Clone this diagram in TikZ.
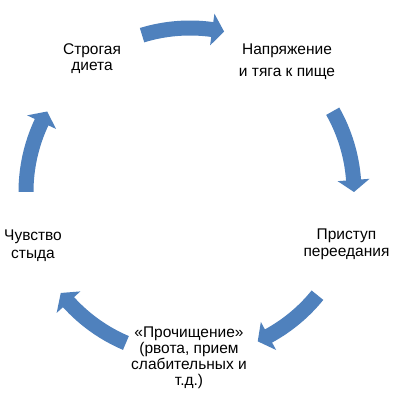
\documentclass[tikz,border=0pt]{standalone}
\usepackage{fontspec}
\setmainfont{Liberation Sans}
\definecolor{cycblue}{HTML}{4F81BD}
\tikzset{
  cyctext/.style={anchor=base, align=center, inner sep=0pt, text=black},
  cycfill/.style={fill=cycblue, draw=none}
}
\begin{document}
\begin{tikzpicture}[x=1pt,y=1pt]
\fill[white] (0,0) rectangle (400,400);
\useasboundingbox (0,0) rectangle (400,400);
\coordinate (ctr) at (190,208);
\begin{scope}[shift={(ctr)}]
\foreach \a/\t in {107/78, 29.5/0, -39/-65.6, -113/-142, 180/150.6}{
  \pgfmathsetmacro{\b}{\t+4.2}
  \fill[cycfill] (\a:171.5pt) arc[start angle=\a, end angle=\b, radius=171.5pt]
    -- (\b:180pt) -- (\t:164pt) -- (\b:148pt) -- (\b:156.5pt)
    arc[start angle=\b, end angle=\a, radius=156.5pt] -- cycle;
}
\end{scope}
\node[cyctext, font={\fontsize{15.5}{16.5}\selectfont}] (diet) at (92,329) {Строгая\\диета};
\node[cyctext, font={\fontsize{15.5}{22}\selectfont}] (tension) at (287,323) {Напряжение\\и тяга к пище};
\node[cyctext, font={\fontsize{15.5}{17}\selectfont}] (binge) at (346.5,143) {Приступ\\переедания};
\node[cyctext, font={\fontsize{15.5}{15.7}\selectfont}] (purge) at (189,15) {«Прочищение»\\(рвота, прием\\слабительных и\\т.д.)};
\node[cyctext, font={\fontsize{15.5}{17.5}\selectfont}] (shame) at (33,142) {Чувство\\стыда};
\end{tikzpicture}
\end{document}
